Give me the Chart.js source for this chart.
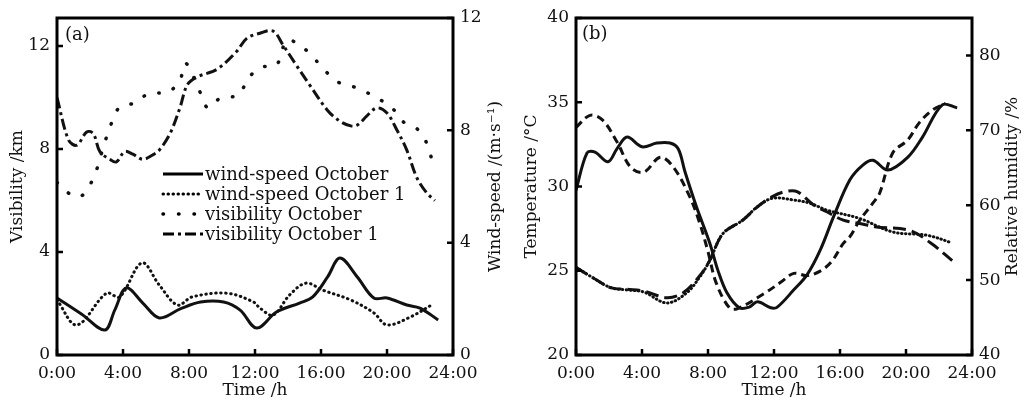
<!DOCTYPE html>
<html>
<head>
<meta charset="utf-8">
<script src="https://cdn.jsdelivr.net/npm/chart.js@4"></script>
<style>
  html, body { margin: 0; padding: 0; background: #fff; }
  #wrap { position: relative; width: 1023px; height: 406px; overflow: hidden; }
  canvas { position: absolute; top: 0; }
</style>
</head>
<body>
<div id="wrap">
  <canvas id="chart_a" width="510" height="406" style="left:0"></canvas>
  <canvas id="chart_b" width="513" height="406" style="left:510px"></canvas>
</div>
<script>
// ---- panel (a) data ----
let visOctHours = [0, 0.6, 1.4, 2.2, 2.9, 3.3, 3.8, 4.7, 5.6, 6.7, 7.45, 7.8, 8.7, 9.15, 9.9, 11.0, 11.6, 12.4, 13.3, 13.9, 14.4, 15.3, 16.2, 17.15, 18.2, 19.4, 20.3, 21.0, 21.9, 22.5, 22.8]
let visOct = [6.7, 6.33, 6.14, 6.87, 8.27, 9.0, 9.63, 9.79, 10.17, 10.2, 10.68, 11.34, 10.17, 9.6, 9.98, 10.1, 10.76, 11.18, 11.26, 12.23, 12.16, 11.73, 11.07, 10.56, 10.37, 9.98, 9.6, 9.05, 8.74, 8.08, 7.3]

let visOct1Hours = [0, 0.7, 1.2, 1.8, 2.2, 2.6, 3.2, 3.6, 4.1, 4.6, 5.2, 5.8, 6.2, 6.85, 7.45, 7.9, 8.5, 9.7, 10.9, 11.5, 12.3, 13.1, 13.7, 14.5, 15.3, 16.4, 17.15, 17.8, 18.2, 18.8, 19.4, 20.0, 20.6, 21.2, 21.8, 22.4, 22.9]
let visOct1 = [10.0, 8.35, 8.15, 8.66, 8.6, 7.9, 7.6, 7.5, 7.9, 7.8, 7.6, 7.77, 7.96, 8.6, 9.6, 10.5, 10.8, 11.1, 11.8, 12.3, 12.5, 12.58, 12.04, 11.26, 10.5, 9.5, 9.08, 8.9, 8.93, 9.3, 9.6, 9.4, 8.74, 7.96, 6.9, 6.3, 6.0]

let windOctHours = [0, 1.5, 2.9, 3.5, 4.2, 5.2, 6.2, 7.5, 8.7, 10.1, 11.1, 12.1, 13.3, 14.7, 15.5, 16.4, 17.15, 18.2, 19.2, 20.0, 21.2, 22.0, 23.1]
let windOct = [2.03, 1.45, 0.89, 1.6, 2.39, 1.85, 1.32, 1.65, 1.89, 1.89, 1.6, 0.96, 1.53, 1.85, 2.07, 2.78, 3.45, 2.78, 2.03, 2.03, 1.78, 1.67, 1.25]

let windOct1Hours = [0, 1.2, 3.0, 3.8, 5.15, 6.2, 7.3, 8.2, 10.3, 11.9, 12.3, 13.1, 14.1, 15.1, 16.1, 17.8, 19.2, 20.0, 21.4, 22.7]
let windOct1 = [1.96, 1.07, 2.2, 2.07, 3.28, 2.49, 1.78, 2.07, 2.2, 1.89, 1.67, 1.42, 2.14, 2.56, 2.31, 1.96, 1.5, 1.07, 1.35, 1.78]

// ---- panel (b) data ----
let tempOctHours = [0, 1.0, 2.1, 3.1, 4.1, 5.5, 6.5, 7.5, 8.1, 8.9, 10.1, 11.0, 11.9, 12.7, 13.4, 14.4, 15.2, 16.2, 17.2, 18.2, 20.2, 21.5, 22.8]
let tempOct = [25.2, 24.6, 24.0, 23.9, 23.8, 23.4, 23.7, 24.7, 25.6, 27.2, 28.0, 28.8, 29.4, 29.7, 29.7, 28.9, 28.5, 28.0, 27.8, 27.6, 27.4, 26.65, 25.6]

let tempOct1Hours = [0, 1.0, 2.1, 3.1, 4.1, 5.5, 6.7, 7.5, 8.1, 8.9, 10.1, 11.0, 11.9, 13.2, 14.2, 15.2, 17.2, 19.2, 21.3, 22.8]
let tempOct1 = [25.2, 24.6, 24.0, 23.86, 23.74, 23.09, 23.68, 24.63, 25.6, 27.2, 28.0, 28.8, 29.3, 29.2, 29.0, 28.6, 28.1, 27.3, 27.1, 26.65]

let rhOctHours = [0, 0.67, 1.15, 1.94, 2.5, 3.1, 4.0, 4.9, 5.7, 6.2, 6.6, 7.3, 8.1, 8.6, 9.15, 9.9, 10.5, 11.0, 11.8, 12.2, 13.2, 14.0, 14.8, 15.6, 16.6, 17.4, 18.0, 18.9, 20.1, 21.0, 22.2, 23.1]
let rhOct = [62.0, 67.0, 67.1, 65.8, 67.6, 69.1, 67.8, 68.3, 68.3, 67.5, 64.5, 59.8, 55.0, 51.3, 48.3, 46.3, 46.4, 47.1, 46.3, 46.4, 48.7, 50.7, 54.0, 58.4, 63.4, 65.4, 66.0, 64.7, 66.4, 69.1, 73.4, 73.0]

let rhOct1Hours = [0, 0.85, 1.6, 2.5, 3.3, 4.1, 5.1, 5.9, 6.9, 7.5, 8.0, 8.5, 9.3, 9.8, 11.4, 12.4, 13.2, 14.0, 14.8, 15.5, 16.2, 16.6, 17.2, 18.0, 18.4, 19.2, 20.1, 20.8, 21.6, 22.4]
let rhOct1 = [70.4, 72.0, 71.4, 68.4, 65.1, 64.4, 66.4, 65.1, 61.1, 57.6, 53.8, 49.6, 46.3, 46.2, 48.2, 49.7, 50.9, 50.6, 51.2, 52.5, 54.9, 55.8, 58.0, 60.3, 61.6, 67.0, 68.7, 71.0, 72.7, 73.6]

// axis ticks
let hourTicks = [0, 4, 8, 12, 16, 20, 24]
let visTicks = [0, 4, 8, 12]
let windTicks = [0, 4, 8, 12]
let tempTicks = [20, 25, 30, 35, 40]
let rhTicks = [40, 50, 60, 70, 80]

const FONT = "'DejaVu Serif', 'Liberation Serif', serif"

function pts(hours, vals) {
  return hours.map((h, i) => ({x: h, y: vals[i]}))
}

// frame, inward ticks, inline legend, panel label, right-hand title
const framePlugin = {
  id: "frame",
  afterDatasetsDraw(chart, args, opts) {
    let ctx = chart.ctx
    let a = chart.chartArea
    ctx.save()
    ctx.setLineDash([])
    ctx.strokeStyle = "#000"
    ctx.lineWidth = 3
    ctx.strokeRect(a.left, a.top, a.right - a.left, a.bottom - a.top)
    ctx.lineWidth = 2.5
    ctx.beginPath()
    for (let id in chart.scales) {
      let sc = chart.scales[id]
      for (let t of sc.ticks) {
        let p = sc.getPixelForValue(t.value)
        if (id == "x") { ctx.moveTo(p, a.bottom); ctx.lineTo(p, a.bottom - 6) }
        else if (sc.position == "left") { ctx.moveTo(a.left, p); ctx.lineTo(a.left + 6, p) }
        else { ctx.moveTo(a.right, p); ctx.lineTo(a.right - 6, p) }
      }
    }
    ctx.stroke()

    // legend
    let lg = opts.legend
    ctx.font = "18px " + FONT
    ctx.fillStyle = "#111"
    ctx.textBaseline = "middle"
    ctx.textAlign = "left"
    chart.data.datasets.forEach((ds, i) => {
      let y = lg.y + i * lg.row
      ctx.beginPath()
      ctx.lineWidth = ds.borderWidth
      ctx.lineCap = ds.borderCapStyle || "butt"
      ctx.setLineDash(ds.borderDash || [])
      ctx.moveTo(lg.x, y)
      ctx.lineTo(lg.x + lg.len, y)
      ctx.stroke()
      ctx.setLineDash([])
      ctx.fillText(ds.label, lg.x + lg.len + 2, y + 1)
    })

    // panel label
    ctx.font = "18px " + FONT
    ctx.fillText(opts.tag, opts.tagX, opts.tagY)

    // right-hand axis title (reads bottom to top)
    ctx.font = "17px " + FONT
    ctx.textAlign = "center"
    ctx.translate(opts.rightTitleX, (a.top + a.bottom) / 2)
    ctx.rotate(-Math.PI / 2)
    ctx.fillText(opts.rightTitle, 0, 0)
    ctx.restore()
  }
}

function lineSet(label, hours, vals, axis, dash, width, cap) {
  return {
    label: label,
    data: pts(hours, vals),
    yAxisID: axis,
    borderColor: "#111",
    borderWidth: width,
    borderDash: dash,
    borderCapStyle: cap,
    pointRadius: 0,
    tension: 0.35,
    fill: false
  }
}

function makeOptions(cfg) {
  return {
    responsive: false,
    animation: false,
    layout: { padding: { top: 18, left: 0, right: 0, bottom: 0 } },
    plugins: {
      legend: { display: false },
      tooltip: { enabled: false },
      frame: cfg.frame
    },
    scales: {
      x: {
        type: "linear", min: 0, max: 24,
        afterBuildTicks: sc => { sc.ticks = hourTicks.map(v => ({value: v})) },
        afterFit: sc => { sc.height = 51 },
        grid: { display: false, drawTicks: false },
        border: { display: false },
        ticks: { padding: 8, color: "#111", font: { family: FONT, size: 17 }, callback: v => v + ":00", maxRotation: 0 },
        title: { display: true, text: "Time /h", color: "#111", font: { family: FONT, size: 17 }, padding: { top: 0, bottom: 5 } }
      },
      y: {
        type: "linear", position: "left", min: cfg.yMin, max: cfg.yMax,
        afterBuildTicks: sc => { sc.ticks = cfg.yTicks.map(v => ({value: v})) },
        afterFit: sc => { sc.width = cfg.leftW },
        grid: { display: false, drawTicks: false },
        border: { display: false },
        ticks: { padding: 7, color: "#111", font: { family: FONT, size: 17 } },
        title: { display: true, text: cfg.yTitle, color: "#111", font: { family: FONT, size: 17 }, padding: { top: cfg.leftTitlePad, bottom: 0 } }
      },
      y1: {
        type: "linear", position: "right", min: cfg.y1Min, max: cfg.y1Max,
        afterBuildTicks: sc => { sc.ticks = cfg.y1Ticks.map(v => ({value: v})) },
        afterFit: sc => { sc.width = cfg.rightW },
        grid: { display: false, drawTicks: false },
        border: { display: false },
        ticks: { padding: 7, color: "#111", font: { family: FONT, size: 17 } }
      }
    }
  }
}

let chart_a = new Chart(document.getElementById("chart_a"), {
  type: "line",
  data: {
    datasets: [
      lineSet("wind-speed October", windOctHours, windOct, "y1", [], 3, "butt"),
      lineSet("wind-speed October 1", windOct1Hours, windOct1, "y1", [0.5, 4.5], 3, "round"),
      lineSet("visibility October", visOctHours, visOct, "y", [0.5, 15], 3.5, "round"),
      lineSet("visibility October 1", visOct1Hours, visOct1, "y", [11, 4, 3, 4], 3, "butt")
    ]
  },
  options: makeOptions({
    yMin: 0, yMax: 13.09, yTicks: visTicks, yTitle: "Visibility /km",
    y1Min: 0, y1Max: 12, y1Ticks: windTicks,
    leftW: 57, rightW: 57, leftTitlePad: 7,
    frame: {
      legend: { x: 163, y: 174, row: 20, len: 40 },
      tag: "(a)", tagX: 65, tagY: 35,
      rightTitle: "Wind-speed /(m·s⁻¹)", rightTitleX: 496
    }
  }),
  plugins: [framePlugin]
})

let chart_b = new Chart(document.getElementById("chart_b"), {
  type: "line",
  data: {
    datasets: [
      lineSet("temperature October", tempOctHours, tempOct, "y", [13, 6], 3, "butt"),
      lineSet("temperature October 1", tempOct1Hours, tempOct1, "y", [0.5, 3.5], 3, "round"),
      lineSet("relative humidity October", rhOctHours, rhOct, "y1", [], 3, "butt"),
      lineSet("relative humidity October 1", rhOct1Hours, rhOct1, "y1", [8, 5], 3, "butt")
    ]
  },
  options: makeOptions({
    yMin: 20, yMax: 40, yTicks: tempTicks, yTitle: "Temperature /°C",
    y1Min: 40, y1Max: 85, y1Ticks: rhTicks,
    leftW: 66, rightW: 51, leftTitlePad: 11,
    frame: {
      legend: { x: 622, y: 32, row: 20, len: 41 },
      tag: "(b)", tagX: 72, tagY: 34,
      rightTitle: "Relative humidity /%", rightTitleX: 503
    }
  }),
  plugins: [framePlugin]
})
</script>
</body>
</html>
